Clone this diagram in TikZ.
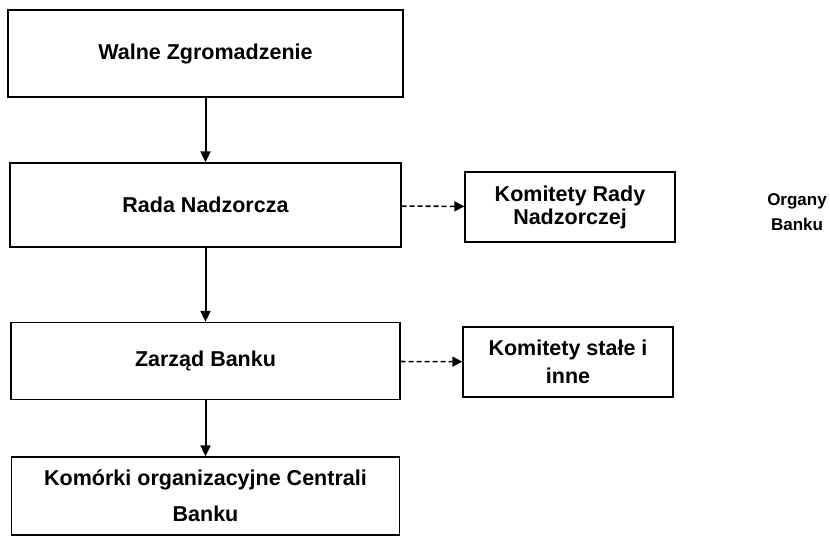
\documentclass[tikz,border=0pt]{standalone}
\usepackage{fontspec}
\setmainfont{Liberation Sans}
\usetikzlibrary{arrows.meta}

\tikzset{
  organ/.style={draw, line width=1.4pt, align=center, inner sep=0pt,
    font=\fontsize{21.5}{24}\selectfont\bfseries},
  komitet/.style={organ, minimum width=210pt, minimum height=70pt},
  podlega/.style={line width=2pt, -{Triangle[length=11pt,width=10pt]}},
  wspiera/.style={line width=1.6pt, dash pattern=on 5pt off 3pt,
    -{Triangle[length=10pt,width=10pt]}}
}

\begin{document}
\begin{tikzpicture}[x=1pt,y=-1pt]
    \useasboundingbox (0,0) rectangle (830,538);
    % glowne organy
    \node[organ, minimum width=395pt, minimum height=87pt] (walne) at (205.5,53.5) {Walne Zgromadzenie};
    \node[organ, minimum width=391pt, minimum height=84pt] (rada) at (205.5,205) {Rada Nadzorcza};
    \node[organ, minimum width=389pt, minimum height=77pt] (zarzad) at (205.5,361) {Zarząd Banku};
    \node[organ, minimum width=388pt, minimum height=78pt,
          font=\fontsize{21.5}{36}\selectfont\bfseries] (komorki) at (205.5,496) {Komórki organizacyjne Centrali\\Banku};
    % komitety
    \node[komitet, font=\fontsize{21.5}{23}\selectfont\bfseries] (komRady) at (570,207) {Komitety Rady\\Nadzorczej};
    \node[komitet, font=\fontsize{21.5}{28}\selectfont\bfseries] (komStale) at (568,362) {Komitety stałe i\\inne};
    \node[align=center, font=\fontsize{17}{25}\selectfont\bfseries] (organy) at (797,212) {Organy\\Banku};
    % polaczenia
    \draw[podlega] (walne) -- (rada);
    \draw[podlega] (rada) -- (zarzad);
    \draw[podlega] (zarzad) -- (komorki);
    \draw[wspiera] (rada) -- (komRady);
    \draw[wspiera] (zarzad) -- (komStale);
\end{tikzpicture}
\end{document}
